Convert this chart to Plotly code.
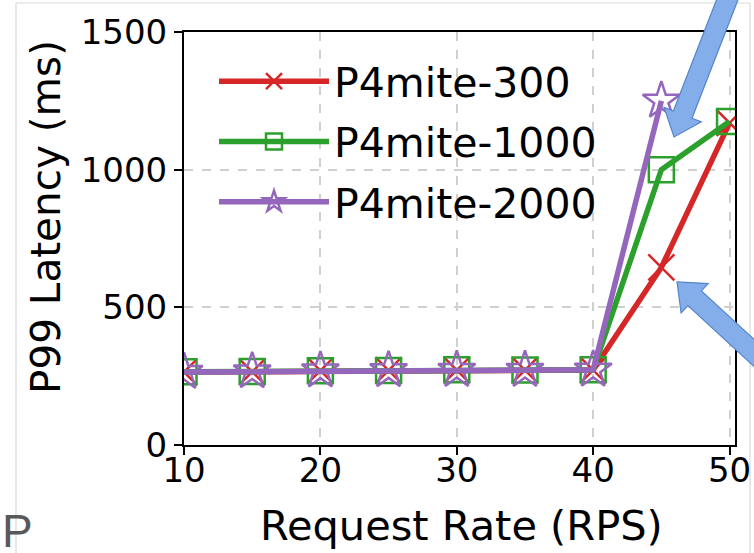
import plotly.graph_objects as go
import math

# ---- data ----
rps = [10, 15, 20, 25, 30, 35, 40, 45, 50]
lat_300 = [265, 266, 270, 271, 272, 272, 272, 645, 1170]
lat_1000 = [266, 267, 270, 271, 273, 272, 273, 1000, 1175]
rps_2000 = [10, 15, 20, 25, 30, 35, 40, 45]
lat_2000 = [265, 267, 270, 271, 272, 272, 273, 1250]
names = ["P4mite-300", "P4mite-1000", "P4mite-2000"]
x_ticks = [10, 20, 30, 40, 50]
y_ticks = [0, 500, 1000, 1500]

W, H = 754, 553
L, R, T, B = 184, 19, 32, 108
PW, PH = W - L - R, H - T - B

def px2paper(px, py):
    return (px - L) / PW, (H - B - py) / PH

def arrow_path(tail, tip, shaft_hw, head_hw, head_len):
    dx, dy = tip[0] - tail[0], tip[1] - tail[1]
    ln = math.hypot(dx, dy)
    ux, uy = dx / ln, dy / ln
    nx, ny = -uy, ux
    bx, by = tip[0] - ux * head_len, tip[1] - uy * head_len
    pts = [
        (tail[0] + nx * shaft_hw, tail[1] + ny * shaft_hw),
        (bx + nx * shaft_hw, by + ny * shaft_hw),
        (bx + nx * head_hw, by + ny * head_hw),
        tip,
        (bx - nx * head_hw, by - ny * head_hw),
        (bx - nx * shaft_hw, by - ny * shaft_hw),
        (tail[0] - nx * shaft_hw, tail[1] - ny * shaft_hw),
    ]
    pp = [px2paper(*p) for p in pts]
    return "M " + " L ".join(f"{a:.5f},{b:.5f}" for a, b in pp) + " Z"

FONT = "DejaVu Sans"
red, green, purple = "#d62728", "#2ca02c", "#9467bd"

fig = go.Figure()
fig.add_trace(go.Scatter(
    x=rps, y=lat_300, name=names[0], legendgroup="a", mode="lines+markers",
    line=dict(color=red, width=5.5), cliponaxis=True,
    marker=dict(symbol="x-thin", size=26, color=red, line=dict(color=red, width=2.5)),
))
fig.add_trace(go.Scatter(
    x=rps, y=lat_1000, name=names[1], legendgroup="b", mode="lines+markers",
    line=dict(color=green, width=5.5), cliponaxis=True,
    marker=dict(symbol="square-open", size=25, color=green, line=dict(color=green, width=2.5)),
))
fig.add_trace(go.Scatter(
    x=rps_2000, y=lat_2000, name=names[2], legendgroup="c", mode="lines+markers",
    line=dict(color=purple, width=5.5), cliponaxis=True,
    marker=dict(symbol="star-open", size=28, color=purple, line=dict(color=purple, width=2.5)),
))

axis_common = dict(
    showline=True, linecolor="black", linewidth=2, mirror=True,
    ticks="outside", ticklen=8, tickwidth=2, tickcolor="black",
    showgrid=True, gridcolor="#d0d0d0", gridwidth=1.5, griddash="dash",
    zeroline=False, automargin=False,
    tickfont=dict(family=FONT, size=34, color="black"),
)
fig.update_xaxes(range=[10, 50.4], tickvals=x_ticks, ticklabelstandoff=-14, **axis_common)
fig.update_yaxes(range=[0, 1500], tickvals=y_ticks, **axis_common)

shapes = []
# frame lines of the source slide
for (x0, y0, x1, y1) in [(16, 3, 16, H + 5), (16, 3, 750, 3), (750, 3, 750, H + 5)]:
    a0, b0 = px2paper(x0, y0)
    a1, b1 = px2paper(x1, y1)
    shapes.append(dict(type="line", xref="paper", yref="paper", x0=a0, y0=b0, x1=a1, y1=b1,
                       line=dict(color="#d9d9d9", width=1.2), layer="below"))
# white mask so markers on the left spine look clipped by the axes
m0x, m0y = px2paper(140, 345)
m1x, m1y = px2paper(182, 400)
shapes.append(dict(type="rect", xref="paper", yref="paper", x0=m0x, y0=m0y, x1=m1x, y1=m1y,
                   fillcolor="white", line=dict(width=0), layer="above"))
# blue callout arrows
for tail, tip in [((733, -15), (674, 137)), ((765, 363), (677, 282))]:
    shapes.append(dict(type="path", xref="paper", yref="paper",
                       path=arrow_path(tail, tip, 10, 20, 24),
                       fillcolor="#84aeea", line=dict(color="#5584cc", width=1.2), layer="above"))

ax, ay = px2paper(461, 525)
bx, by = px2paper(46, 217)
px_, py_ = px2paper(0, 531)
annotations = [
    dict(text="Request Rate (RPS)", x=ax, y=ay, xref="paper", yref="paper", showarrow=False,
         xanchor="center", yanchor="middle", font=dict(family=FONT, size=41.5, color="black")),
    dict(text="P99 Latency (ms)", x=bx, y=by, xref="paper", yref="paper", showarrow=False,
         textangle=-90, xanchor="center", yanchor="middle", font=dict(family=FONT, size=40.5, color="black")),
    dict(text="P", x=px_, y=py_, xref="paper", yref="paper", showarrow=False,
         xanchor="left", yanchor="middle", font=dict(family="Liberation Sans", size=46, color="#595959")),
]

lx, ly = px2paper(214, 48)
fig.update_layout(
    width=W, height=H,
    margin=dict(l=L, r=R, t=T, b=B, pad=0, autoexpand=False),
    paper_bgcolor="white", plot_bgcolor="white",
    font=dict(family=FONT, color="black"),
    legend=dict(x=lx, y=ly, xanchor="left", yanchor="top", bgcolor="rgba(0,0,0,0)",
                font=dict(family=FONT, size=41, color="black"), itemwidth=110,
                tracegroupgap=4),
    shapes=shapes, annotations=annotations,
)
fig.write_html("out.html")
